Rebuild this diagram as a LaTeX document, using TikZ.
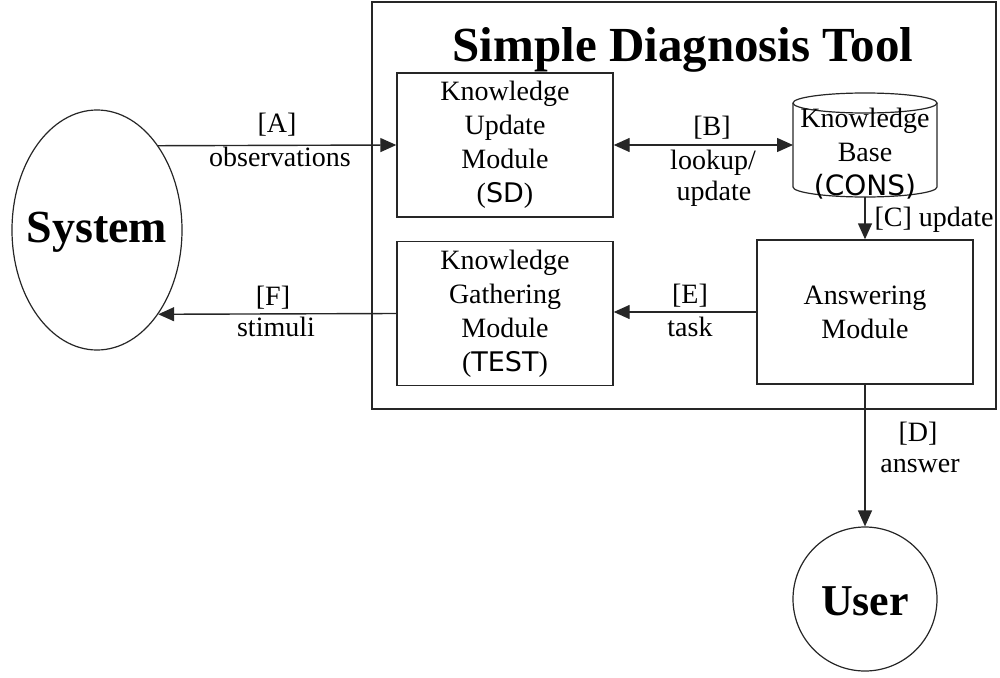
\documentclass[tikz,border=0pt]{standalone}
\usepackage{fontspec}
\setmainfont{Liberation Serif}
\newfontfamily\sansf{DejaVu Sans}
\usetikzlibrary{arrows.meta,shapes.geometric}

\tikzset{
  base/.style={line width=1.4pt, draw=black!85},
  arr/.style={base, -{Triangle[length=16pt,width=14pt]}},
  darr/.style={base, {Triangle[length=16pt,width=14pt]}-{Triangle[length=16pt,width=14pt]}},
  txt/.style={font=\fontsize{28}{33}\selectfont, align=center, inner sep=0pt},
  modbox/.style={base, rectangle, minimum width=216pt, minimum height=144pt, inner sep=0pt,
                 font=\fontsize{28}{34}\selectfont, align=center},
  actor/.style={base, line width=1.2pt, inner sep=0pt},
  actorname/.style={inner sep=0pt, font=\bfseries\fontsize{46}{50}\selectfont}
}

\begin{document}
\begin{tikzpicture}[x=1pt, y=-1pt]
  \useasboundingbox (0,0) rectangle (1000,677);

  % outer frame of the tool
  \node[base, rectangle, minimum width=624pt, minimum height=407pt, inner sep=0pt] (tool) at (684,205.5) {};
  \node[anchor=base, inner sep=0pt, font=\bfseries\fontsize{49}{54}\selectfont] (title) at (683,61) {Simple Diagnosis Tool};

  % external actors
  \node[actor, ellipse, minimum width=170pt, minimum height=240pt] (sys) at (97,230) {};
  \node[actorname] (systext) at (97,232) {System};
  \node[actor, circle, minimum size=144pt] (user) at (865,599) {};
  \node[actorname, font=\bfseries\fontsize{44}{50}\selectfont] (usertext) at (865,601) {User};

  % modules
  \node[modbox] (kum) at (505,145) {Knowledge\\Update\\Module\\({\sansf\fontsize{27}{34}\selectfont SD})};
  \node[modbox] (kgm) at (505,313.5) {Knowledge\\Gathering\\Module\\({\sansf\fontsize{27}{34}\selectfont TEST})};
  \node[modbox] (ans) at (865,312) {Answering\\Module};

  % knowledge base drawn as a cylinder
  \node[rectangle, minimum width=144pt, minimum height=104pt, inner sep=0pt, outer sep=0pt] (kb) at (865,145) {};
  \draw[base, line width=1.2pt] (kb.north west) ++(0,10) -- ++(0,84)
        arc[start angle=180, end angle=360, x radius=72pt, y radius=10pt]
        -- ++(0,-84);
  \draw[base, line width=1.2pt] (kb.north) ++(0,10) ellipse[x radius=72pt, y radius=10pt];
  \node[txt, font=\fontsize{28}{34}\selectfont] (kbtext) at (865,154) {Knowledge\\Base\\{\sansf (CONS)}};

  % connectors
  \draw[arr] (sys.54.8) -- (kum.west);
  \draw[darr] (kum.east) -- (kb.west);
  \draw[arr] (kb.south) -- (ans.north);
  \draw[arr] (ans.south) -- (user.north);
  \draw[arr] (ans.west) -- (ans.west -| kgm.east);
  \draw[arr] (kgm.west) -- (sys.-54.5);

  % connector labels
  \node[txt] (la1) at (277,125) {[A]};
  \node[txt] (la2) at (280,157) {observations};
  \node[txt] (lb1) at (712,128) {[B]};
  \node[txt] (lb2) at (713,163) {lookup/};
  \node[txt] (lb3) at (714,194) {update};
  \node[txt] (lc) at (934,220) {[C] update};
  \node[txt] (ld1) at (918,434) {[D]};
  \node[txt] (ld2) at (920,466) {answer};
  \node[txt] (le1) at (690,296) {[E]};
  \node[txt] (le2) at (690,327) {task};
  \node[txt] (lf1) at (273,298) {[F]};
  \node[txt] (lf2) at (276,327) {stimuli};
\end{tikzpicture}
\end{document}
